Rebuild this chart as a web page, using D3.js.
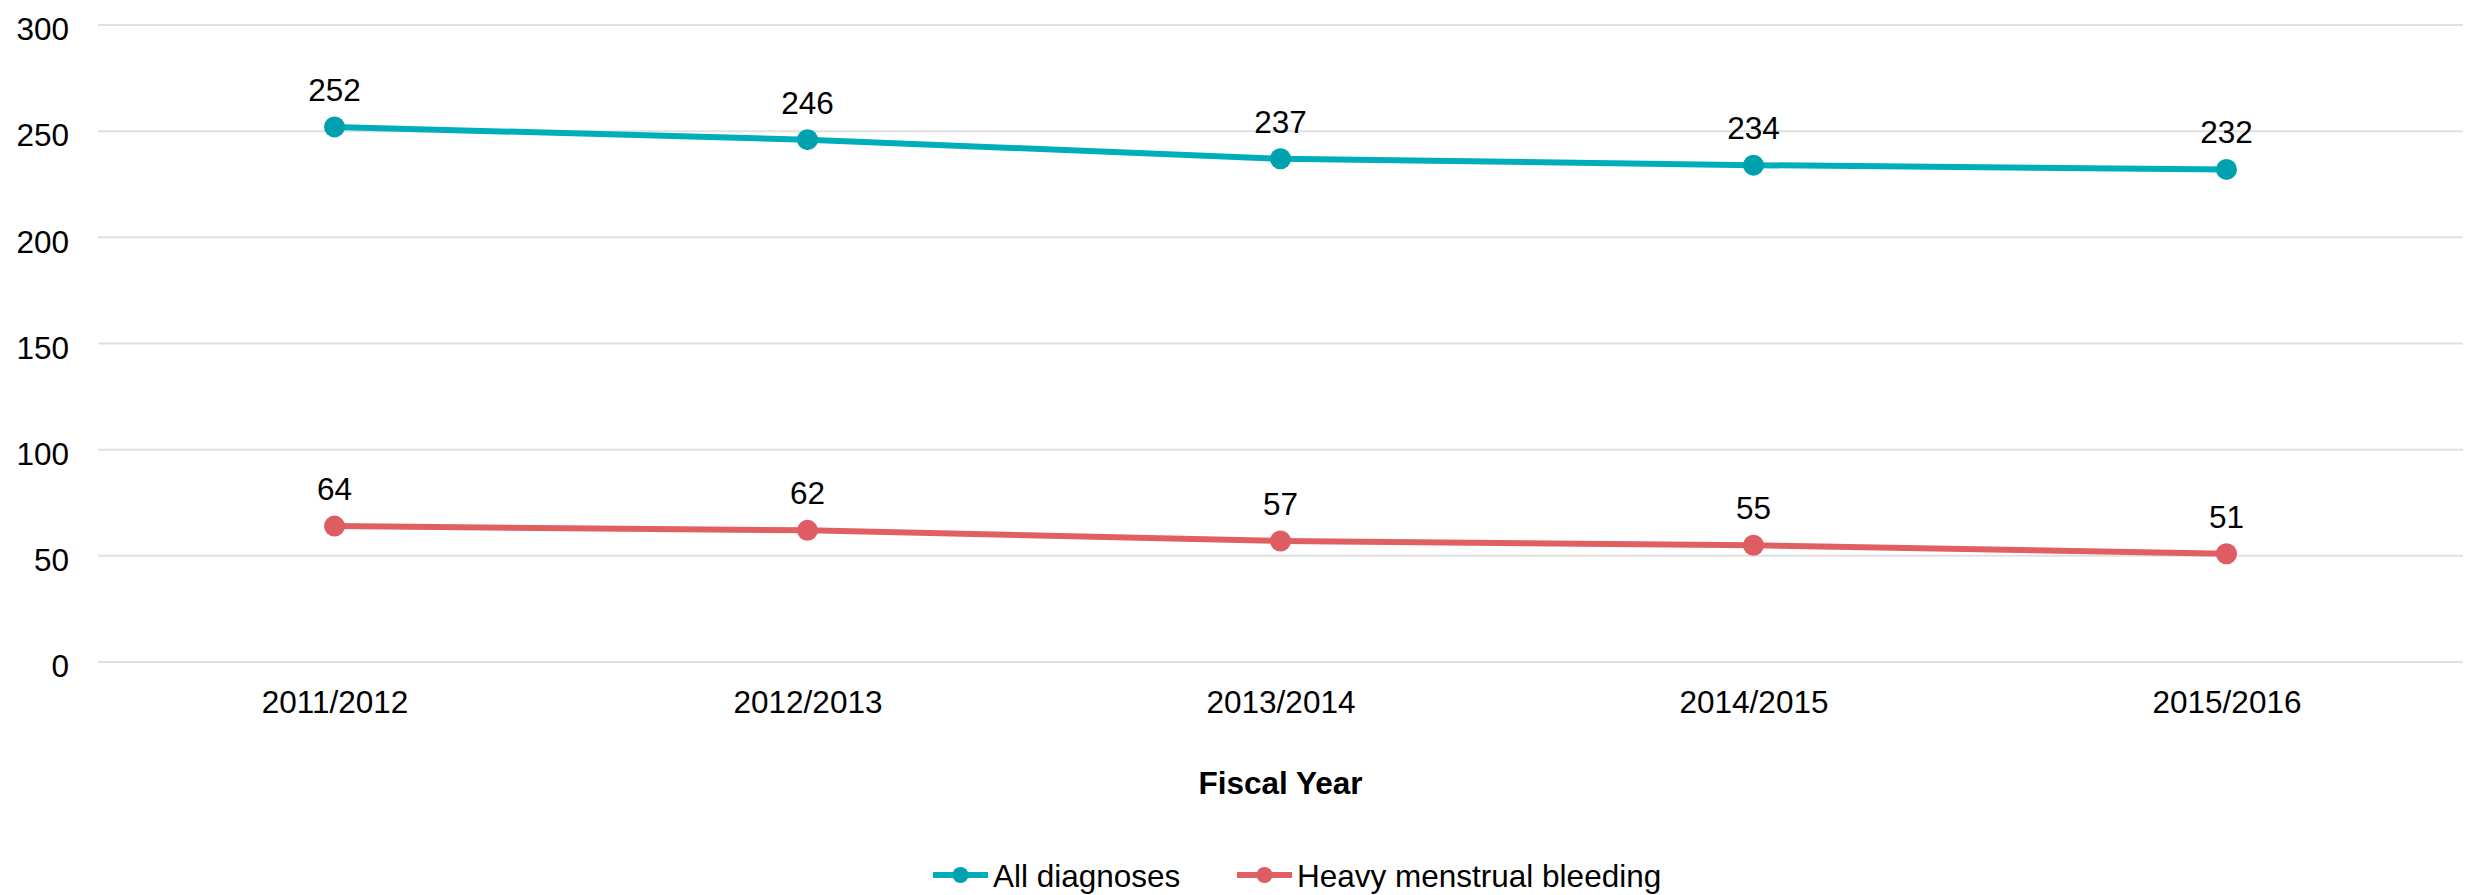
<!DOCTYPE html>
<html>
<head>
<meta charset="utf-8">
<script src="https://cdn.jsdelivr.net/npm/d3@7"></script>
<style>
  body { margin: 0; background: #fff; }
  svg text { font-family: "Liberation Sans", Arial, sans-serif; fill: #000; }
</style>
</head>
<body>
<svg id="chart"></svg>
<script>
// fiscal years on the x axis
const years = ["2011/2012", "2012/2013", "2013/2014", "2014/2015", "2015/2016"];
// rates per series
const allDiagnoses = [252, 246, 237, 234, 232];
const heavyBleeding = [64, 62, 57, 55, 51];
const yTicks = [0, 50, 100, 150, 200, 250, 300];

const series = [
  { name: "All diagnoses", values: allDiagnoses, line: "#00adba", dot: "#00a1ae" },
  { name: "Heavy menstrual bleeding", values: heavyBleeding, line: "#e06062", dot: "#dd5d62" }
];

const width = 2474, height = 895;
const margin = { top: 25, right: 11, bottom: 233, left: 98 };
const fs = 31.5;

const svg = d3.select("#chart")
  .attr("width", width)
  .attr("height", height);

const x = d3.scalePoint()
  .domain(years)
  .range([margin.left, width - margin.right])
  .padding(0.5);

const y = d3.scaleLinear()
  .domain([0, 300])
  .range([height - margin.bottom, margin.top]);

// grid lines
svg.append("g")
  .selectAll("line")
  .data(yTicks)
  .join("line")
  .attr("x1", margin.left)
  .attr("x2", width - margin.right)
  .attr("y1", d => y(d))
  .attr("y2", d => y(d))
  .attr("stroke", "#e0e0e0")
  .attr("stroke-width", 2);

// y axis labels
const yAxis = svg.append("g")
  .attr("transform", `translate(${margin.left},0)`)
  .call(d3.axisLeft(y).tickValues(yTicks).tickSize(0).tickPadding(29));
yAxis.select(".domain").remove();
yAxis.selectAll("text")
  .attr("font-size", fs)
  .attr("font-family", "Liberation Sans, Arial, sans-serif")
  .attr("dy", "0.47em");

// x axis labels
const xAxis = svg.append("g")
  .attr("transform", `translate(0,${y(0)})`)
  .call(d3.axisBottom(x).tickSize(0).tickPadding(29));
xAxis.select(".domain").remove();
xAxis.selectAll("text")
  .attr("font-size", fs)
  .attr("font-family", "Liberation Sans, Arial, sans-serif");

// axis title
svg.append("text")
  .attr("x", (margin.left + width - margin.right) / 2)
  .attr("y", 794)
  .attr("text-anchor", "middle")
  .attr("font-size", fs)
  .attr("font-weight", "bold")
  .text("Fiscal Year");

const line = d3.line()
  .x((d, i) => x(years[i]))
  .y(d => y(d));

series.forEach(s => {
  const g = svg.append("g");
  g.append("path")
    .datum(s.values)
    .attr("fill", "none")
    .attr("stroke", s.line)
    .attr("stroke-width", 6)
    .attr("d", line);

  g.selectAll("circle")
    .data(s.values)
    .join("circle")
    .attr("cx", (d, i) => x(years[i]))
    .attr("cy", d => y(d))
    .attr("r", 10.5)
    .attr("fill", s.dot);

  g.selectAll("text")
    .data(s.values)
    .join("text")
    .attr("x", (d, i) => x(years[i]))
    .attr("y", d => y(d) - 26)
    .attr("text-anchor", "middle")
    .attr("font-size", fs)
    .text(d => d);
});

// legend
const legendItems = [
  { x: 933, s: series[0] },
  { x: 1237, s: series[1] }
];
const ly = 875;
legendItems.forEach(item => {
  const g = svg.append("g").attr("transform", `translate(${item.x},${ly})`);
  g.append("line")
    .attr("x1", 0).attr("x2", 55)
    .attr("y1", 0).attr("y2", 0)
    .attr("stroke", item.s.line)
    .attr("stroke-width", 6);
  g.append("circle")
    .attr("cx", 27.5).attr("cy", 0).attr("r", 8)
    .attr("fill", item.s.dot);
  g.append("text")
    .attr("x", 60)
    .attr("y", 12)
    .attr("font-size", fs)
    .text(item.s.name);
});
</script>
</body>
</html>
